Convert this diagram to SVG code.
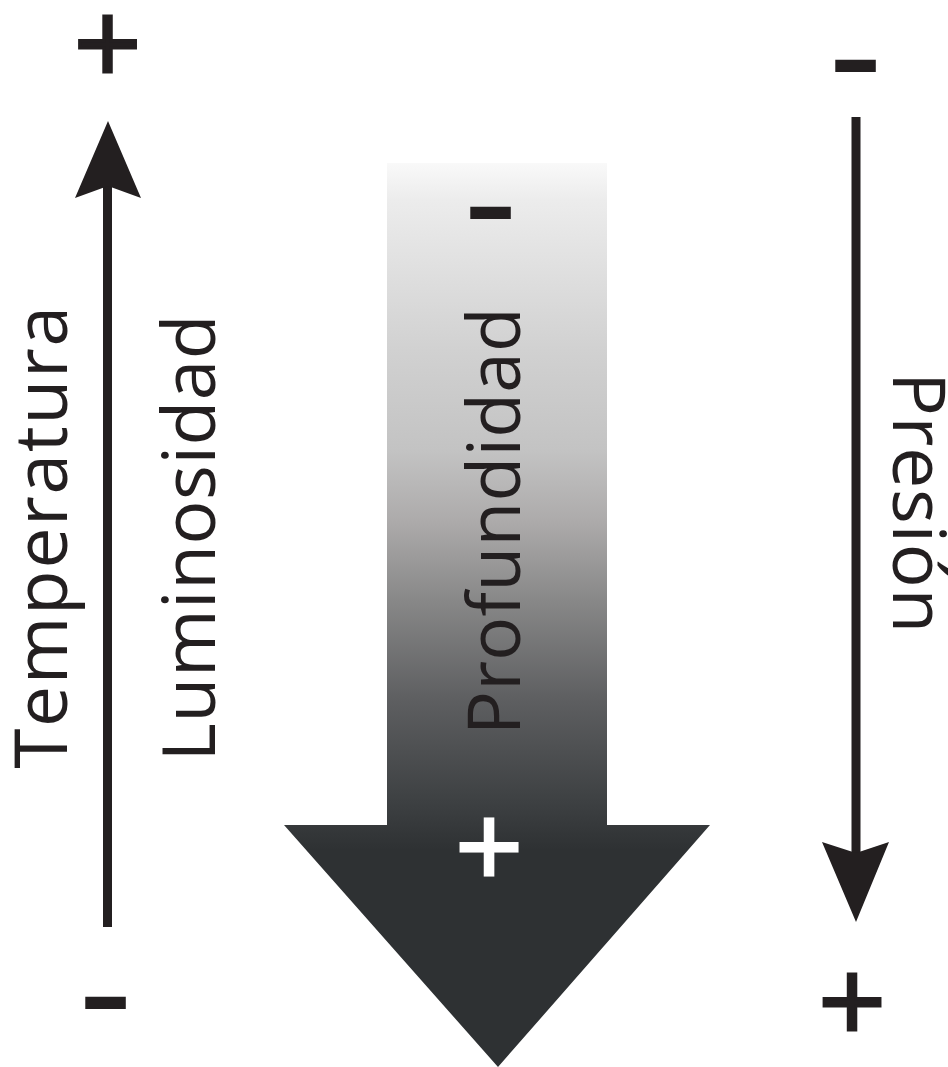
<svg xmlns="http://www.w3.org/2000/svg" width="948" height="1067" viewBox="0 0 948 1067">
  <defs>
    <linearGradient id="depthGrad" gradientUnits="userSpaceOnUse" x1="0" y1="163" x2="0" y2="850">
      <stop offset="0" stop-color="#f9f9f9"/>
      <stop offset="0.054" stop-color="#ececec"/>
      <stop offset="0.127" stop-color="#e3e3e3"/>
      <stop offset="0.272" stop-color="#d1d1d1"/>
      <stop offset="0.418" stop-color="#c3c3c3"/>
      <stop offset="0.52" stop-color="#adabab"/>
      <stop offset="0.636" stop-color="#888888"/>
      <stop offset="0.78" stop-color="#5e5f61"/>
      <stop offset="0.927" stop-color="#3e4143"/>
      <stop offset="1" stop-color="#2e3133"/>
    </linearGradient>
  </defs>
  <style>
    .lbl { font-family: "Open Sans", "DejaVu Sans", sans-serif; font-size: 73px; fill: #231f20; }
    .sign { font-family: "DejaVu Sans", sans-serif; text-anchor: middle; stroke-linejoin: miter; }
    .plus { font-size: 89px; stroke-width: 3.2; }
    .minus { font-size: 52px; stroke-width: 8; }
    .dark { fill: #231f20; stroke: #231f20; }
    .light { fill: #ffffff; stroke: #ffffff; }
    .shaft { stroke: #231f20; stroke-width: 9; fill: none; }
    .head { fill: #231f20; }
  </style>

  <g id="connectors">
    <g id="arrow-up">
      <line class="shaft" x1="107.5" y1="927" x2="107.5" y2="180"/>
      <polygon class="head" points="108,121 141,198 108,186 75,198"/>
    </g>
    <g id="arrow-down">
      <line class="shaft" x1="856" y1="117" x2="856" y2="860"/>
      <polygon class="head" points="856,922 889,842 856,853 822,842"/>
    </g>
  </g>

  <g id="depth-arrow">
    <polygon points="387,163 607,163 607,825 710,825 498,1067 284,825 387,825" fill="url(#depthGrad)"/>
    <text class="sign minus dark" x="490.5" y="229">−</text>
    <text class="sign plus light" x="489" y="875">+</text>
    <text class="lbl" transform="translate(520,521) rotate(-90)" text-anchor="middle" letter-spacing="0.3">Profundidad</text>
  </g>

  <g id="temperatura">
    <text class="sign plus dark" x="107.5" y="72">+</text>
    <text class="sign minus dark" x="105.5" y="1019">−</text>
    <text class="lbl" transform="translate(67,536.5) rotate(-90)" text-anchor="middle" letter-spacing="1.7">Temperatura</text>
  </g>

  <g id="luminosidad">
    <text class="lbl" transform="translate(215,537.5) rotate(-90)" text-anchor="middle" letter-spacing="0.6">Luminosidad</text>
  </g>

  <g id="presion">
    <text class="sign minus dark" x="855.5" y="82">−</text>
    <text class="sign plus dark" x="852" y="1030">+</text>
    <text class="lbl" transform="translate(893,503) rotate(90)" text-anchor="middle" letter-spacing="0.8">Presión</text>
  </g>
</svg>
